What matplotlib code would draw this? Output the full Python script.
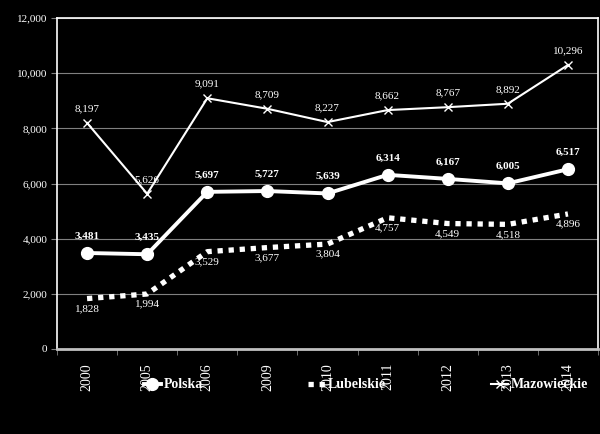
import matplotlib
matplotlib.use('Agg')
import matplotlib.pyplot as plt
import numpy as np

years = ['2000', '2005', '2006', '2009', '2010', '2011', '2012', '2013', '2014']
polska = [3481, 3435, 5697, 5727, 5639, 6314, 6167, 6005, 6517]
lubelskie = [1828, 1994, 3529, 3677, 3804, 4757, 4549, 4518, 4896]
mazowieckie = [8197, 5626, 9091, 8709, 8227, 8662, 8767, 8892, 10296]

plt.rcParams['font.family'] = ['Liberation Serif', 'DejaVu Serif']

fig = plt.figure(figsize=(6.0, 4.34), dpi=100, facecolor='black')
ax = fig.add_axes([57 / 600, 1 - 349 / 434, 541 / 600, 331 / 434])
ax.set_facecolor('black')

x = np.arange(len(years))

ax.plot(x, polska, color='white', lw=2.8, marker='o', ms=8.5, label='Polska', zorder=4)
ax.plot(x, lubelskie, color='white', lw=3.8, linestyle=(0, (1, 1.1)), dash_capstyle='butt',
        label='Lubelskie', zorder=3)
ax.plot(x, mazowieckie, color='white', lw=1.5, marker='x', ms=6, mew=1, label='Mazowieckie', zorder=3)

for i in range(len(years)):
    ax.annotate(f'{polska[i]:,}', (x[i], polska[i]), xytext=(0, 9), textcoords='offset points',
                ha='center', va='bottom', color='white', fontsize=8, fontweight='bold')
    ax.annotate(f'{mazowieckie[i]:,}', (x[i], mazowieckie[i]), xytext=(0, 7), textcoords='offset points',
                ha='center', va='bottom', color='white', fontsize=8)
    ax.annotate(f'{lubelskie[i]:,}', (x[i], lubelskie[i]), xytext=(0, -4), textcoords='offset points',
                ha='center', va='top', color='white', fontsize=8)

ax.set_xlim(-0.5, len(years) - 0.5)
ax.set_ylim(0, 12000)
ax.set_yticks(np.arange(0, 12001, 2000))
ax.set_yticklabels([f'{v:,}' for v in range(0, 12001, 2000)], color='white', fontsize=8)
ax.yaxis.grid(True, color='#808080', lw=0.8)
ax.set_axisbelow(True)

ax.set_xticks(x)
ax.set_xticklabels(years, rotation=90, color='white', fontsize=10)
ax.set_xticks(np.arange(-0.5, len(years)), minor=True)
ax.tick_params(axis='x', which='major', length=0, pad=10)
ax.tick_params(axis='x', which='minor', length=4, color='#808080')
ax.tick_params(axis='y', length=4, color='#808080', pad=3)

for s in ['left', 'top', 'right']:
    ax.spines[s].set_color('white')
    ax.spines[s].set_linewidth(1.2)
ax.spines['bottom'].set_color('#c0c0c0')
ax.spines['bottom'].set_linewidth(2)

leg = fig.legend(loc='center', bbox_to_anchor=(366 / 600, 1 - 385 / 434), ncol=3,
                 frameon=False, columnspacing=7.6, handlelength=1.2, handletextpad=0.2,
                 prop={'weight': 'bold', 'size': 10})
for t in leg.get_texts():
    t.set_color('white')

fig.savefig('out.png', dpi=100, facecolor='black')
